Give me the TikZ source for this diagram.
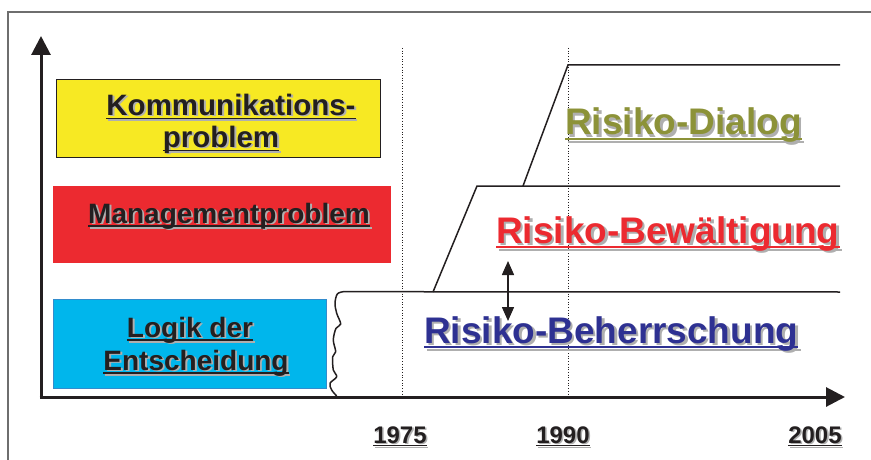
\documentclass[tikz,border=0pt]{standalone}
\usepackage{fontspec}
\setmainfont{Liberation Sans}
\usetikzlibrary{arrows.meta}
\definecolor{dark}{RGB}{35,31,32}
\definecolor{framegray}{RGB}{110,110,110}
\definecolor{ybox}{RGB}{247,233,35}
\definecolor{rbox}{RGB}{236,42,48}
\definecolor{bbox}{RGB}{0,182,236}
\definecolor{bborder}{RGB}{50,140,205}
\definecolor{btext}{RGB}{46,49,146}
\definecolor{otext}{RGB}{140,146,56}
\definecolor{shgray}{RGB}{175,175,175}
\newsavebox\tbox
\newcommand{\sht}[2]{%
  \sbox\tbox{#2}%
  \makebox[0pt][l]{\kern0.065em\raisebox{-0.065em}{\color{shgray}#2\kern-\wd\tbox\rule[-0.14em]{\wd\tbox}{0.055em}}}%
  {\color{#1}#2\kern-\wd\tbox\rule[-0.14em]{\wd\tbox}{0.055em}}}
\tikzset{
  boxst/.style={anchor=north west, inner sep=0pt, outer sep=0pt},
  lbl/.style={font=\fontsize{28}{33}\selectfont\bfseries, inner sep=0pt, anchor=base},
  klbl/.style={font=\fontsize{29.5}{33}\selectfont\bfseries, inner sep=0pt, anchor=base},
  risk/.style={font=\fontsize{37}{40}\selectfont\bfseries, inner sep=0pt, anchor=base west},
  yr/.style={font=\fontsize{24}{28}\selectfont\bfseries, inner sep=0pt, anchor=base},
  axis/.style={line width=3pt, draw=dark, -{Triangle[length=19pt,width=19pt]}},
  thin/.style={line width=1.5pt, draw=dark},
  dots/.style={line width=0.9pt, draw=dark, dash pattern=on 0.9pt off 1.8pt},
}
\begin{document}
\begin{tikzpicture}[x=1pt,y=-1pt]
\useasboundingbox (0,0) rectangle (871,460);
% frame
\draw[framegray, line width=1.5pt] (8,460) -- (8,12) -- (871,12);
% boxes
\node[boxst, draw=dark, line width=1pt, fill=ybox, minimum width=324pt, minimum height=77pt] (kbox) at (56,80) {};
\node[boxst, fill=rbox, minimum width=338pt, minimum height=77pt] (mbox) at (53,186) {};
\node[boxst, draw=bborder, line width=1pt, fill=bbox, minimum width=273pt, minimum height=89pt] (lbox) at (53,299) {};
\node[klbl] (k1) at (231,115) {\sht{dark}{Kommunikations-}};
\node[klbl] (k2) at (221,147) {\sht{dark}{problem}};
\node[lbl] (m1) at (229,223) {\sht{dark}{Managementproblem}};
\node[lbl] (l1) at (190,337) {\sht{dark}{Logik der}};
\node[lbl] (l2) at (196,370) {\sht{dark}{Entscheidung}};
% dotted lines
\coordinate (d1t) at (402,48); \coordinate (d1b) at (402,397);
\coordinate (d2t) at (568,48); \coordinate (d2b) at (568,397);
\draw[dots] (d1t) -- (d1b);
\draw[dots] (d2t) -- (d2b);
% axes
\coordinate (O) at (41,397);
\coordinate (ytip) at (41,36);
\coordinate (xtip) at (845,397);
\draw[axis] ([yshift=-1.5pt]O) -- (ytip);
\draw[axis] ([xshift=-1.5pt]O) -- (xtip);
% phase lines
\coordinate (w0) at (343.3,291.7);
\coordinate (e0) at (840,292);
\coordinate (s1a) at (433,292); \coordinate (s1b) at (477,186); \coordinate (e1) at (840,186);
\coordinate (s2a) at (523,186); \coordinate (s2b) at (568,65); \coordinate (e2) at (840,65);
\draw[thin, line join=round] plot[smooth, tension=0.55] coordinates {(336.7,396) (331.7,390) (330,383.3) (336.7,376.7) (333.3,370) (332.7,356.7) (335.7,351.7) (333.3,340) (336,328.3) (340.7,324) (336.7,313.3) (335,303.3) (337.3,294) (343.3,291.7)} -- (e0);
\draw[thin] (s1a) -- (s1b) -- (e1);
\draw[thin] (s2a) -- (s2b) -- (e2);
% double arrow
\coordinate (da) at (508,261); \coordinate (db) at (508,321);
\draw[thin, {Triangle[length=14pt,width=12pt]}-{Triangle[length=14pt,width=12pt]}] (da) -- (db);
% phase texts
\node[risk] (rd) at (565,135) {\sht{otext}{Risiko-Dialog}};
\node[risk] (rb) at (496,243) {\sht{rbox}{Risiko-Bewältigung}};
\node[risk] (rh) at (424,343) {\sht{btext}{Risiko-Beherrschung}};
% years
\node[yr] (y1) at (400,443) {\sht{dark}{1975}};
\node[yr] (y2) at (563,443) {\sht{dark}{1990}};
\node[yr] (y3) at (815,443) {\sht{dark}{2005}};
\end{tikzpicture}
\end{document}
